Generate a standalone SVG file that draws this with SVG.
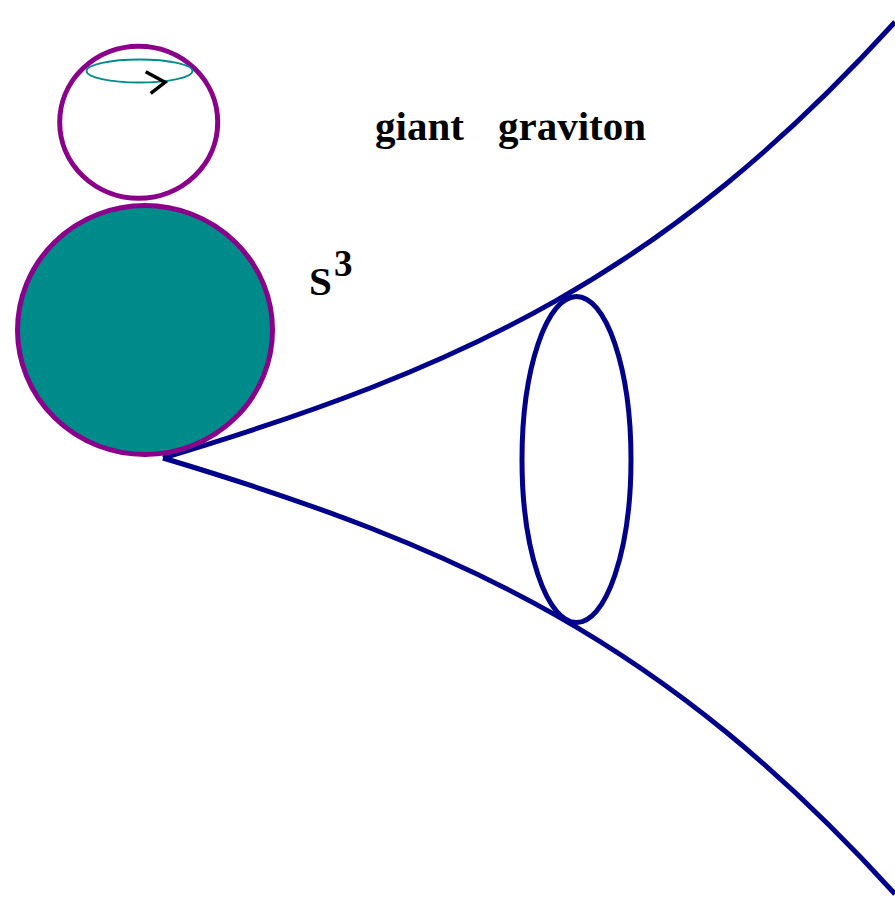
<svg xmlns="http://www.w3.org/2000/svg" width="895" height="910" viewBox="0 0 895 910">
<style>
.lbl{font-family:"Liberation Serif","Times New Roman",serif;font-weight:bold;fill:#000}
.cone{fill:none;stroke:#00008B;stroke-width:5}
.sph{stroke:#8B008B;stroke-width:5}
</style>
<rect width="895" height="910" fill="#fff"/>
<g id="connectors">
<path class="cone" d="M163,458 C463,368 665,275 895,22"/>
<path class="cone" d="M163,458 C463,548 665,641 895,894"/>
</g>
<g id="small-sphere">
<ellipse class="sph" cx="138.7" cy="122.3" rx="79" ry="76" fill="none"/>
<ellipse cx="139.5" cy="71" rx="53" ry="11.5" fill="none" stroke="#008B8B" stroke-width="1.8"/>
<polyline points="145.7,71.7 165,82.3 150.7,93.3" fill="none" stroke="#000" stroke-width="3.5"/>
</g>
<g id="big-sphere">
<ellipse class="sph" cx="145" cy="330" rx="127.5" ry="124.5" fill="#008B8B"/>
</g>
<g id="cone-ring">
<ellipse class="cone" cx="576.5" cy="459.5" rx="54.5" ry="163"/>
</g>
<g id="label-giant-graviton">
<text class="lbl" y="140" font-size="41"><tspan x="375">giant</tspan><tspan x="498">graviton</tspan></text>
</g>
<g id="label-s3">
<text class="lbl" x="309" y="295" font-size="41">S</text>
<text class="lbl" x="334" y="276" font-size="37">3</text>
</g>
</svg>
